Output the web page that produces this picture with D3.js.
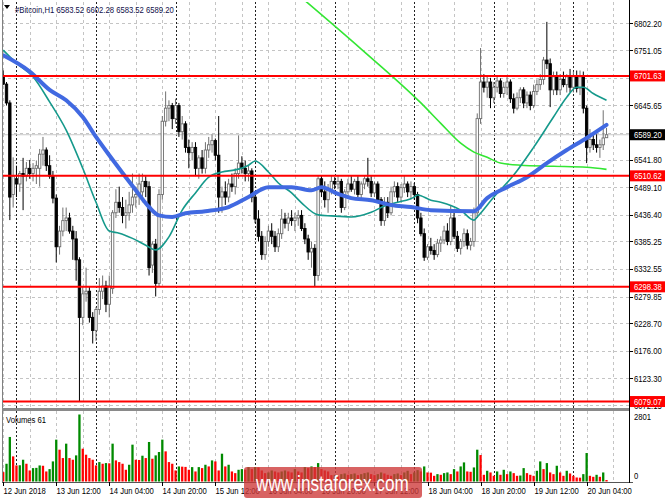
<!DOCTYPE html>
<html><head><meta charset="utf-8">
<script src="https://cdn.jsdelivr.net/npm/d3@7"></script>
<style>body{margin:0;background:#fff}svg{display:block}text{font-family:"Liberation Sans",Arial,sans-serif}</style>
</head><body><svg id="c" width="665" height="499"></svg>
<script>
const symbol = "#Bitcoin,H1";
const firstBar = "2018-06-12T20:00:00Z";
const opens = [6700,6686,6650,6475,6505,6495,6515,6510,6525,6515,6525,6525,6552,6560,6530,6510,6468,6375,6405,6425,6430,6405,6390,6350,6240,6285,6290,6240,6215,6255,6290,6300,6265,6295,6440,6460,6450,6435,6440,6455,6470,6475,6480,6500,6490,6340,6380,6305,6475,6615,6640,6645,6620,6645,6595,6610,6565,6555,6565,6525,6545,6525,6560,6570,6578,6550,6470,6480,6470,6495,6490,6515,6535,6525,6515,6520,6470,6428,6395,6360,6385,6405,6395,6375,6400,6428,6420,6430,6425,6430,6435,6410,6390,6365,6372,6320,6505,6480,6465,6485,6500,6495,6500,6450,6480,6495,6485,6500,6475,6495,6505,6500,6478,6495,6465,6425,6460,6440,6480,6490,6470,6488,6495,6480,6490,6475,6430,6400,6355,6375,6368,6360,6382,6388,6405,6385,6430,6395,6372,6385,6400,6378,6385,6440,6620,6690,6680,6690,6660,6680,6692,6668,6680,6690,6658,6640,6660,6675,6650,6665,6645,6672,6685,6695,6732,6725,6675,6700,6675,6695,6685,6700,6680,6700,6678,6700,6640,6565,6580,6570,6565,6570,6583.52];
const highs = [6712,6690,6655,6546,6530,6520,6545,6537,6541,6535,6540,6562,6585,6565,6550,6520,6475,6415,6450,6450,6440,6415,6405,6355,6300,6335,6300,6250,6260,6315,6320,6310,6320,6445,6485,6490,6470,6465,6480,6515,6490,6515,6515,6510,6500,6385,6390,6485,6625,6672,6655,6650,6658,6650,6625,6615,6580,6575,6575,6550,6560,6575,6585,6590,6582,6625,6490,6500,6505,6515,6525,6588,6548,6540,6530,6525,6480,6445,6405,6395,6415,6420,6405,6410,6447,6440,6440,6445,6440,6445,6445,6420,6398,6385,6380,6512,6512,6500,6495,6512,6508,6510,6505,6485,6505,6510,6505,6510,6500,6510,6545,6510,6500,6500,6470,6470,6470,6490,6500,6498,6495,6512,6500,6500,6497,6480,6440,6410,6380,6392,6380,6390,6395,6415,6420,6455,6440,6405,6390,6410,6408,6392,6450,6630,6755,6705,6700,6698,6690,6700,6697,6690,6700,6695,6668,6670,6680,6680,6672,6672,6685,6695,6705,6738,6805,6735,6710,6710,6705,6710,6705,6715,6710,6712,6712,6710,6645,6600,6590,6590,6580,6636,6602.28];
const lows = [6684,6645,6426,6450,6470,6480,6445,6500,6505,6500,6495,6490,6530,6520,6505,6458,6345,6360,6395,6405,6400,6350,6310,6079,6225,6270,6230,6190,6195,6245,6275,6250,6240,6285,6430,6440,6420,6410,6425,6440,6450,6455,6460,6470,6320,6325,6280,6298,6465,6605,6615,6600,6610,6585,6580,6555,6525,6540,6510,6505,6515,6515,6545,6555,6540,6440,6440,6455,6460,6480,6475,6505,6515,6500,6500,6460,6420,6385,6350,6350,6375,6380,6365,6365,6390,6410,6405,6415,6405,6415,6405,6380,6350,6335,6298,6310,6470,6450,6440,6475,6485,6485,6440,6445,6475,6480,6475,6470,6465,6485,6490,6470,6470,6460,6415,6415,6430,6435,6470,6460,6460,6478,6470,6465,6465,6420,6395,6348,6350,6360,6350,6355,6365,6380,6378,6378,6390,6365,6360,6375,6370,6368,6375,6430,6610,6670,6660,6640,6650,6670,6660,6660,6665,6650,6630,6636,6650,6640,6640,6636,6640,6665,6675,6685,6715,6642,6665,6665,6665,6680,6670,6670,6670,6670,6665,6630,6535,6555,6560,6555,6545,6560,6583.52];
const closes = [6686,6650,6470,6510,6495,6515,6510,6525,6515,6525,6530,6552,6560,6530,6510,6468,6375,6405,6425,6430,6405,6390,6350,6240,6285,6290,6240,6215,6255,6290,6300,6265,6300,6440,6460,6450,6435,6440,6455,6470,6475,6495,6500,6490,6335,6380,6305,6475,6615,6640,6645,6620,6645,6595,6610,6565,6555,6565,6525,6545,6525,6560,6570,6578,6550,6470,6480,6470,6495,6490,6515,6535,6525,6515,6520,6470,6428,6395,6360,6385,6405,6395,6375,6400,6428,6420,6430,6425,6430,6435,6410,6390,6365,6372,6320,6505,6480,6465,6485,6500,6495,6500,6450,6480,6495,6485,6500,6475,6495,6505,6500,6478,6495,6465,6425,6460,6440,6480,6490,6470,6488,6495,6480,6490,6475,6430,6400,6355,6375,6368,6360,6382,6388,6405,6385,6430,6395,6372,6385,6400,6378,6385,6440,6620,6690,6680,6690,6660,6680,6692,6668,6680,6690,6658,6640,6660,6675,6650,6665,6645,6672,6685,6695,6732,6725,6675,6700,6675,6695,6685,6700,6680,6700,6678,6700,6640,6565,6580,6570,6565,6570,6583,6589.20];
const volumes = [392,742,1862,1050,672,680,910,742,462,560,570,672,658,420,518,840,1750,1330,980,1582,980,910,1092,2801,1372,1120,980,910,672,812,742,770,760,1582,882,812,742,490,700,1540,910,900,1078,980,1652,952,1092,1232,1750,1260,812,742,462,630,620,610,490,602,420,602,560,700,630,882,840,462,1162,630,700,420,350,490,518,
490,602,518,602,590,462,350,378,462,420,378,420,462,420,378,518,420,378,602,560,630,602,770,518,462,420,
266,280,238,308,336,280,308,336,266,308,350,378,308,266,308,378,336,280,238,308,336,266,378,448,308,378,476,420,
630,378,370,238,308,280,350,378,308,518,420,630,798,420,406,588,1330,1106,280,448,378,238,420,280,490,308,420,350,238,250,560,350,280,238,448,840,518,770,378,308,658,378,238,448,336,238,168,160,308,1190,238,196,280,196,378,61];
const priceTicks = [6802.20,6751.05,6698.35,6645.65,6592.95,6541.80,6489.10,6436.40,6385.25,6332.55,6279.85,6228.70,6176.00,6123.30,6072.15];
const levels = [6701.63,6510.62,6298.38,6079.07];
const lastPrice = 6589.20;
const volumeMax = 2801;
const maBlue = [[0,6741],[8,6710],[14,6675],[19,6655],[24,6623],[28,6585],[32,6550],[36,6516],[40,6483],[44,6451],[47,6435],[51,6432],[55,6439],[61,6443],[68,6451],[74,6470],[80,6489],[87,6489],[93,6483],[96,6489],[101,6476],[105,6468],[111,6464],[117,6455],[123,6451],[129,6445],[142,6443],[146,6468],[152,6489],[158,6508],[164,6535],[170,6560],[176,6583],[182,6608]];
const maTeal = [[0,6751],[4,6726],[9,6700],[14,6652],[19,6598],[24,6525],[28,6460],[32,6405],[35,6401],[39,6391],[43,6378],[46,6369],[50,6394],[54,6445],[58,6478],[62,6508],[66,6518],[70,6522],[74,6531],[76,6539],[80,6518],[83,6497],[87,6478],[90,6459],[95,6436],[99,6434],[105,6432],[111,6441],[115,6453],[119,6460],[124,6470],[125,6474],[129,6464],[132,6460],[138,6445],[142,6426],[143,6432],[148,6470],[154,6512],[160,6565],[166,6623],[170,6661],[173,6680],[175,6680],[178,6668],[182,6655]];
const maGreen = [[88,6862],[108,6753],[126,6650],[132,6611],[138,6573],[142,6556],[146,6546],[150,6535],[156,6531],[166,6529],[176,6527],[182,6523]];
const watermark = "www.instaforex.com";

const L=2, R=629, T=2, MB=408, VT=411, VB=482;
const HOUR=3600e3;
const t0 = new Date(firstBar);
const tAt = i => new Date(t0.getTime()+i*HOUR);
const x = d3.scaleUtc().domain([t0, tAt(188.9)]).range([3.2, 629.4]);
const y = d3.scaleLinear().domain([6066.7, 6843]).range([MB, T]);
const yv = d3.scaleLinear().domain([0, volumeMax]).range([481.5, 414.5]);
const svg = d3.select("#c");
function txt(g,px,py,s,size,fill,anchor){
  return g.append("text").attr("transform",`translate(${px},${py}) scale(0.8,1)`)
    .attr("font-size",size).attr("fill",fill||"#000").attr("text-anchor",anchor||"start").text(s);
}
svg.append("defs").append("clipPath").attr("id","mc").append("rect").attr("x",L).attr("y",T).attr("width",R-L).attr("height",MB-T);
svg.append("defs").append("clipPath").attr("id","vc").append("rect").attr("x",L).attr("y",VT).attr("width",R-L).attr("height",VB-VT);

const grid = svg.append("g");
grid.selectAll(".hg").data(priceTicks).join("line")
  .attr("x1",L).attr("x2",R).attr("y1",d=>Math.round(y(d))+0.5).attr("y2",d=>Math.round(y(d))+0.5)
  .attr("stroke","#c4c4c4").attr("stroke-dasharray","3,3");
const hoursAll = d3.range(0,189);
const gridHours = hoursAll.filter(i=>tAt(i).getUTCHours()%8===4);
const dayHours = hoursAll.filter(i=>tAt(i).getUTCHours()===0);
[[T,MB],[VT,VB]].forEach(([a,b])=>{
  grid.selectAll(null).data(gridHours).join("line")
    .attr("x1",d=>Math.round(x(tAt(d)))+0.5).attr("x2",d=>Math.round(x(tAt(d)))+0.5).attr("y1",a).attr("y2",b)
    .attr("stroke","#c4c4c4").attr("stroke-dasharray","3,3");
  grid.selectAll(null).data(dayHours).join("line")
    .attr("x1",d=>Math.round(x(tAt(d)))+0.5).attr("x2",d=>Math.round(x(tAt(d)))+0.5).attr("y1",a).attr("y2",b)
    .attr("stroke","#222").attr("stroke-dasharray","2,2");
});
svg.append("line").attr("x1",L).attr("x2",R).attr("y1",y(lastPrice)).attr("y2",y(lastPrice)).attr("stroke","#c8c8c8").attr("stroke-width",1);

const bars = opens.map((o,i)=>({i,o,h:highs[i],l:lows[i],c:closes[i],v:volumes[i]}));
const cg = svg.append("g").attr("clip-path","url(#mc)");
cg.selectAll(".w").data(bars).join("line")
  .attr("x1",d=>x(tAt(d.i))).attr("x2",d=>x(tAt(d.i))).attr("y1",d=>y(d.h)).attr("y2",d=>y(d.l))
  .attr("stroke",d=>d.c>=d.o?"#707070":"#000").attr("stroke-width",1);
cg.selectAll(".b").data(bars).join("rect")
  .attr("x",d=>x(tAt(d.i))-1.2).attr("width",2.4)
  .attr("y",d=>y(Math.max(d.o,d.c))).attr("height",d=>Math.max(1,Math.abs(y(d.o)-y(d.c))))
  .attr("fill",d=>d.c>=d.o?"#fff":"#000").attr("stroke",d=>d.c>=d.o?"#6e6e6e":"#000").attr("stroke-width",0.9);

const lineGen = d3.line().x(d=>x(tAt(d[0]))).y(d=>y(d[1])).curve(d3.curveMonotoneX);
const mg = svg.append("g").attr("clip-path","url(#mc)").attr("fill","none");
mg.append("path").attr("d",lineGen(maGreen)).attr("stroke","#33e633").attr("stroke-width",1.6);
mg.append("path").attr("d",lineGen(maTeal)).attr("stroke","#15998b").attr("stroke-width",1.6);
mg.append("path").attr("d",lineGen(maBlue)).attr("stroke","#4169e1").attr("stroke-width",4).attr("stroke-linecap","round");

svg.append("g").selectAll("line").data(levels).join("line")
  .attr("x1",L).attr("x2",R).attr("y1",d=>y(d)).attr("y2",d=>y(d)).attr("stroke","#ff0000").attr("stroke-width",2);

const vg = svg.append("g").attr("clip-path","url(#vc)");
vg.selectAll("rect").data(bars).join("rect")
  .attr("x",d=>x(tAt(d.i))-1.15).attr("width",2.3)
  .attr("y",d=>yv(d.v)).attr("height",d=>yv(0)-yv(d.v))
  .attr("fill",(d,i)=> i>0 && d.v>volumes[i-1] ? "#008a00" : "#ff0000");

const fr = svg.append("g").attr("stroke","#808080").attr("fill","none");
fr.append("line").attr("x1",2.5).attr("x2",2.5).attr("y1",0).attr("y2",VB);
svg.append("rect").attr("x",L).attr("y",MB).attr("width",R-L).attr("height",VT-MB).attr("fill","#8a8a8a");
svg.append("line").attr("x1",L).attr("x2",R+4).attr("y1",VB+0.5).attr("y2",VB+0.5).attr("stroke","#555");
svg.append("line").attr("x1",R+0.5).attr("x2",R+0.5).attr("y1",0).attr("y2",VB+1).attr("stroke","#000");

const ax = svg.append("g");
ax.selectAll("line").data(priceTicks).join("line")
  .attr("x1",R).attr("x2",R+4).attr("y1",d=>Math.round(y(d))+0.5).attr("y2",d=>Math.round(y(d))+0.5).attr("stroke","#000");
const boxed = levels.concat([lastPrice]);
priceTicks.filter(p=>!boxed.some(b=>Math.abs(y(b)-y(p))<3))
  .forEach(p=>txt(ax,634,y(p)+3.5,d3.format(".2f")(p),9.6));
levels.forEach(p=>{
  ax.append("rect").attr("x",R+1).attr("y",y(p)-5.5).attr("width",665-R).attr("height",11).attr("fill","#ff0000");
  txt(ax,634,y(p)+3.5,d3.format(".2f")(p),9.6,"#fff");
});
ax.append("rect").attr("x",R+1).attr("y",y(lastPrice)-5.5).attr("width",665-R).attr("height",11).attr("fill","#000");
txt(ax,634,y(lastPrice)+3.5,d3.format(".2f")(lastPrice),9.6,"#fff");

txt(ax,634,420,String(volumeMax),9.6);
txt(ax,634,479,"0",9.6);
txt(svg,6,422.5,"Volumes "+volumes[volumes.length-1],9.6,"#000");

const labelIdx = d3.range(0,189,16);
const tfmt = d3.utcFormat("%d %b %H:%M");
labelIdx.forEach((i,k)=>{
  const px = Math.round(x(tAt(i)))+0.5;
  svg.append("line").attr("x1",px).attr("x2",px).attr("y1",VB).attr("y2",VB+4).attr("stroke","#000");
  const s = k===0 ? d3.utcFormat("%d %b %Y")(tAt(i)) : tfmt(tAt(i));
  txt(svg,px,494,s,9.6);
});

svg.append("path").attr("d","M4,5 L10,5 L7,9 Z").attr("fill","#000");
txt(svg,15,12.5,symbol+"  "+[opens,highs,lows,closes].map(a=>d3.format(".2f")(a[a.length-1])).join(" "),9.6,"#10104a");

svg.append("rect").attr("x",244).attr("y",467).attr("width",178).attr("height",31).attr("rx",3)
  .attr("fill","rgba(205,55,55,0.78)");
txt(svg,256,491,watermark,21.5,"#fff");
</script></body></html>
